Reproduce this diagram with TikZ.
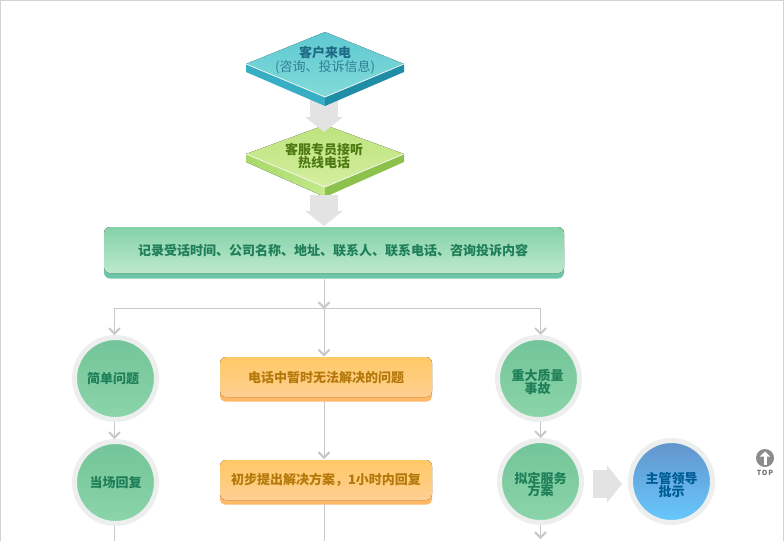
\documentclass[tikz,border=0pt]{standalone}
\usepackage{fontspec}
\setmainfont{Noto Sans CJK SC}
\usetikzlibrary{arrows.meta,calc}
\definecolor{lnc}{HTML}{C8C8C8}
\definecolor{blk}{HTML}{E3E3E3}
\definecolor{ringc}{HTML}{EDEFEE}
\definecolor{grtxt}{HTML}{1F7F58}
\definecolor{ortxt}{HTML}{B5780A}
\definecolor{cgA}{HTML}{72C498}
\definecolor{cgB}{HTML}{8CD5AA}
\definecolor{cbA}{HTML}{6394CA}
\definecolor{cbB}{HTML}{66C9FF}
\definecolor{orBase}{HTML}{FFB866}
\definecolor{orA}{HTML}{FFC966}
\definecolor{orB}{HTML}{FFCF92}
\definecolor{lgA}{HTML}{A6D968}
\definecolor{lgB}{HTML}{C4EA8C}
\definecolor{lgC}{HTML}{8CC24C}
\definecolor{lgD}{HTML}{BCE37C}
\definecolor{lgE}{HTML}{D4EE9F}
\definecolor{tlA}{HTML}{38AEC4}
\definecolor{tlB}{HTML}{1F8DA6}
\definecolor{tlC}{HTML}{5EC9D2}
\definecolor{tlD}{HTML}{82DBD8}
\definecolor{recBase}{HTML}{6FC5A8}
\definecolor{recA}{HTML}{84D2A8}
\definecolor{recB}{HTML}{BDE9CD}
\definecolor{txA}{HTML}{1F6A85}
\definecolor{txB}{HTML}{2F7F96}
\definecolor{txC}{HTML}{4E7A12}
\definecolor{txD}{HTML}{005C96}
\definecolor{topc}{HTML}{8C8C8C}
\definecolor{toptx}{HTML}{6E6E6E}
\tikzset{
  x=1pt,y=-1pt,
  lbl/.style={font=\fontsize{13}{14}\selectfont\bfseries,align=center,inner sep=0pt},
  conn/.style={draw=lnc,line width=1pt},
  tipped/.style={conn,-{Straight Barb[length=5.5pt,width=11pt,line width=2pt]}},
  blockarrow/.style={draw=blk,line width=28pt,-{Triangle[length=15pt,width=37pt]}},
  greenball/.style={circle,minimum size=82pt,inner sep=0pt,draw=ringc,line width=5pt,top color=cgA,bottom color=cgB,text=grtxt,lbl},
  blueball/.style={circle,minimum size=82pt,inner sep=0pt,draw=ringc,line width=5pt,top color=cbA,bottom color=cbB,text=txD,lbl},
  orangebase/.style={rounded corners=5pt,fill=orBase},
  orangeface/.style={rounded corners=6pt,top color=orA,bottom color=orB},
}
\begin{document}
\begin{tikzpicture}
\useasboundingbox (0,0) rectangle (784,541);
\fill[white] (0,0) rectangle (784,541);
\draw[lnc!80,line width=1pt] (0.5,541) -- (0.5,0.5) -- (783.2,0.5) -- (783.2,541);

% coordinates
\coordinate (tc) at (324,308);
\coordinate (tmid) at (324,309);
\coordinate (tmidT) at (324,298);
\coordinate (tl) at (114.5,308);
\coordinate (tr) at (540.5,308);
\coordinate (bl) at (114.5,541);
\coordinate (bc) at (324,541);
\coordinate (br) at (540.5,539);
\coordinate (aS) at (324,96);
\coordinate (bN) at (324,132);
\coordinate (bS) at (324,195);
\coordinate (recN) at (324,226);
\coordinate (c4E) at (593,484);
\coordinate (c5W) at (622,484);

% diamond B
\fill[left color=lgA,right color=lgB] (246,154) -- (325,187) -- (325,197) -- (246,162) -- cycle;
\fill[lgC] (404,154) -- (325,187) -- (325,197) -- (404,162) -- cycle;
\fill[top color=lgD,bottom color=lgE] (325,125) -- (404,154) -- (325,187) -- (246,154) -- cycle;
\draw[white,line width=0.7pt] (246,154) -- (325,187) -- (404,154);

% block arrow A to B
\draw[blockarrow] (aS) -- (bN);

% diamond A
\fill[tlA] (246,64) -- (325,97) -- (325,106) -- (246,72) -- cycle;
\fill[tlB] (404,64) -- (325,97) -- (325,106) -- (404,72) -- cycle;
\fill[top color=tlC,bottom color=tlD] (325,32) -- (404,64) -- (325,97) -- (246,64) -- cycle;
\draw[white,line width=0.7pt] (246,64) -- (325,97) -- (404,64);

\node[lbl,text=txA] (dAa) at (325,53) {客户来电};
\node[lbl,font=\fontsize{13}{14}\selectfont,text=txB] (dAb) at (325,67.5) {(咨询、投诉信息)};
\node[lbl,text=txC] (dBt) at (324,156) {客服专员接听\\[-1pt]热线电话};

% record box
\fill[rounded corners=6pt,fill=recBase] (104,240) rectangle (564,278.5);
\fill[rounded corners=6pt,top color=recA,bottom color=recB] (104,227) rectangle (564,273);
\node[lbl,text=grtxt] (rec) at (333,251) {记录受话时间、公司名称、地址、联系人、联系电话、咨询投诉内容};
\coordinate (recS) at (324,278);

% orange boxes
\fill[orangebase] (220,375) rectangle (432,401.5);
\fill[orangeface] (220,357) rectangle (432,397);
\node[lbl,text=ortxt] (qa) at (326,378) {电话中暂时无法解决的问题};
\fill[orangebase] (220,478) rectangle (432,504.5);
\fill[orangeface] (220,460) rectangle (432,500);
\node[lbl,text=ortxt] (qb) at (326,480) {初步提出解决方案，1小时内回复};
\coordinate (qaN) at (324,356.5);
\coordinate (qaS) at (324,401);
\coordinate (qbN) at (324,459);
\coordinate (qbS) at (324,504);

% circles
\node[greenball] (c1n) at (115.5,378.5) {};
\node[greenball] (c2n) at (115.5,482.5) {当场回复};
\node[greenball] (c3n) at (538.5,378.5) {};
\node[greenball] (c4n) at (540.5,481.5) {};
\node[blueball] (c5n) at (671.5,481.5) {};
\node[lbl,text=grtxt] (c1t) at ($(c1n.center)+(-2.5,0)$) {简单问题};
\node[lbl,text=grtxt] (c3t) at ($(c3n.center)+(-1,3)$) {重大质量\\[-1pt]事故};
\node[lbl,text=grtxt] (c4t) at ($(c4n.center)+(0,3)$) {拟定服务\\[-1pt]方案};
\node[lbl,text=txD] (c5t) at ($(c5n.center)+(0,3)$) {主管领导\\[-1pt]批示};

% connectors
\draw[conn] (recS) -- (tc);
\draw[conn] (tl) -- (tr);
\draw[tipped] (tmidT) -- (tmid);
\draw[tipped] (tc) -- (qaN);
\draw[tipped] (tl) -- (tl |- c1n.north);
\draw[tipped] (tr) -- (tr |- c3n.north);
\draw[tipped] (qaS) -- (qbN);
\draw[conn] (qbS) -- (bc);
\draw[tipped] (c1n.south -| tl) -- (c2n.north -| tl);
\draw[conn] (c2n.south -| tl) -- (bl);
\draw[tipped] (c3n.south -| tr) -- (c4n.north -| tr);
\draw[tipped] (c4n.south -| tr) -- (br);

% block arrows
\draw[blockarrow] (bS) -- (recN);
\draw[blockarrow] (c4E) -- (c5W);

% TOP icon
\node[circle,fill=topc,minimum size=18pt,inner sep=0pt] (topi) at (765,458) {};
\draw[white,line width=3pt,-{Triangle[length=5pt,width=10pt]}] (765,464.5) -- (765,451.5);
\node[font=\fontsize{7}{7}\selectfont\bfseries\addfontfeatures{LetterSpace=12},text=toptx,inner sep=0pt] (topt) at (765,472.5) {TOP};
\end{tikzpicture}
\end{document}
